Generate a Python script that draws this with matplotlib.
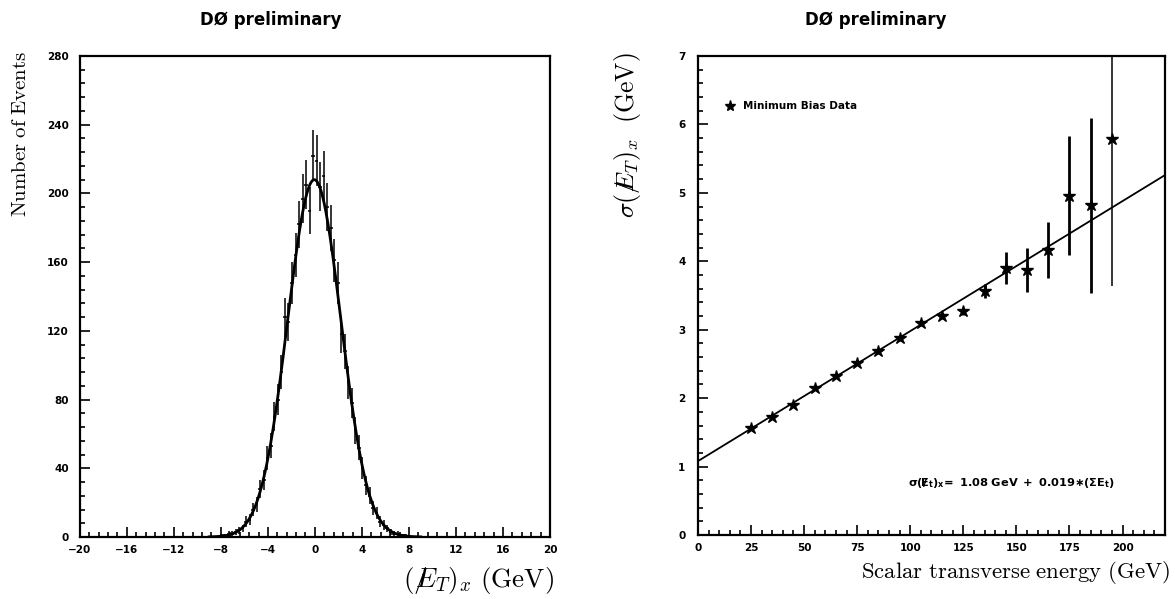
import numpy as np
import matplotlib
matplotlib.use("Agg")
import matplotlib.pyplot as plt
from matplotlib.ticker import MultipleLocator

plt.rcParams['mathtext.fontset'] = 'cm'
plt.rcParams['font.family'] = 'DejaVu Sans'

# ---- Left panel: x component of missing transverse energy ----
bin_width = 0.3
met_x_centers = np.arange(-7.95, 8.0, bin_width)
met_x_counts = [1, 1, 2, 2, 3, 4, 5, 9, 10, 16, 19, 28, 33, 46, 53, 70, 80, 96,
                128, 125, 148, 164, 182, 197, 205, 190, 222,
                219, 204, 210, 192, 180, 161, 148, 118, 108, 90, 78, 62, 52, 40,
                30, 24, 17, 14, 9, 7, 5, 3, 2, 2, 1, 1, 0]
# Gaussian fit parameters
gauss_amp, gauss_mean, gauss_sigma = 208.0, -0.05, 2.27

# ---- Right panel: resolution vs scalar transverse energy ----
sum_et = [25, 35, 45, 55, 65, 75, 85, 95, 105, 115, 125, 135, 145, 155, 165, 175, 185, 195]
sigma_met = [1.57, 1.72, 1.90, 2.15, 2.33, 2.51, 2.69, 2.88, 3.10, 3.20, 3.27, 3.57,
             3.90, 3.87, 4.16, 4.96, 4.82, 5.78]
sigma_err = [0.02, 0.02, 0.03, 0.03, 0.03, 0.03, 0.04, 0.04, 0.04, 0.05, 0.06, 0.10,
             0.23, 0.32, 0.41, 0.87, 1.28, 2.14]
fit_intercept, fit_slope = 1.08, 0.019

fig = plt.figure(figsize=(11.75, 5.99), dpi=100)
ax1 = fig.add_axes([0.068, 0.1035, 0.400, 0.803])
ax2 = fig.add_axes([0.594, 0.1068, 0.3975, 0.7997])


def style_axes(ax):
    for sp in ax.spines.values():
        sp.set_linewidth(1.6)
    ax.tick_params(which='both', direction='in', top=False, right=False, width=1.2)
    ax.tick_params(which='major', length=7)
    ax.tick_params(which='minor', length=3.5)
    for lab in ax.get_xticklabels() + ax.get_yticklabels():
        lab.set_fontsize(7.5)
        lab.set_fontweight('bold')


# Left panel
counts = np.asarray(met_x_counts, dtype=float)
ax1.errorbar(met_x_centers, counts, xerr=bin_width / 2, yerr=np.sqrt(counts),
             fmt='none', ecolor='black', elinewidth=1.1, capsize=0)
xs = np.linspace(-9, 9, 400)
ax1.plot(xs, gauss_amp * np.exp(-0.5 * ((xs - gauss_mean) / gauss_sigma) ** 2),
         color='black', lw=2.0)
ax1.set_xlim(-20, 20)
ax1.set_ylim(0, 280)
ax1.xaxis.set_major_locator(MultipleLocator(4))
ax1.xaxis.set_minor_locator(MultipleLocator(0.8))
ax1.yaxis.set_major_locator(MultipleLocator(40))
ax1.yaxis.set_minor_locator(MultipleLocator(8))
style_axes(ax1)
ax1.tick_params(axis='y', pad=8)
ax1.tick_params(axis='x', pad=6)
ax1.set_ylabel(r'$\mathrm{Number\ of\ Events}$', fontsize=15, loc='top')
ax1.yaxis.set_label_coords(-0.106, 1.01)
ax1.set_xlabel(r'$(/\!\!\!E_T)_x\ \mathrm{(GeV)}$', fontsize=19.5, loc='right')
ax1.xaxis.set_label_coords(1.01, -0.058)
ax1.text(0.406, 1.075, 'DØ preliminary', transform=ax1.transAxes,
         ha='center', va='center', fontsize=12, fontweight='bold')

# Right panel
ax2.errorbar(sum_et[:-1], sigma_met[:-1], yerr=sigma_err[:-1], fmt='*', color='black',
             ms=9, elinewidth=2.0, capsize=0)
ax2.errorbar(sum_et[-1:], sigma_met[-1:], yerr=sigma_err[-1:], fmt='*', color='black',
             ms=9, elinewidth=1.1, capsize=0)
xl = np.array([0.0, 220.0])
ax2.plot(xl, fit_intercept + fit_slope * xl, color='black', lw=1.3)
ax2.set_xlim(0, 220)
ax2.set_ylim(0, 7)
ax2.xaxis.set_major_locator(MultipleLocator(25))
ax2.xaxis.set_minor_locator(MultipleLocator(5))
ax2.yaxis.set_major_locator(MultipleLocator(1))
ax2.yaxis.set_minor_locator(MultipleLocator(0.2))
style_axes(ax2)
ax2.tick_params(axis='y', pad=9)
ax2.tick_params(axis='x', pad=6)
ax2.set_ylabel(r'$\sigma(/\!\!\!E_T)_x\ \ \mathrm{(GeV)}$', fontsize=18.5, loc='top')
ax2.yaxis.set_label_coords(-0.118, 1.008)
ax2.set_xlabel(r'$\mathrm{Scalar\ transverse\ energy\ (GeV)}$', fontsize=16.4, loc='right')
ax2.xaxis.set_label_coords(1.01, -0.05)
ax2.text(0.381, 1.075, 'DØ preliminary', transform=ax2.transAxes,
         ha='center', va='center', fontsize=12, fontweight='bold')

leg_handle = ax2.plot([], [], '*', color='black', ms=8, label='Minimum Bias Data')[0]
ax2.legend(handles=[leg_handle], loc='upper left', bbox_to_anchor=(0.036, 0.925),
           frameon=False, handletextpad=0.6, handlelength=1.2,
           prop=dict(size=7.5, weight='bold'))

ax2.text(0.672, 0.108,
         r'$\mathbf{\sigma(/\!\!\!E_t)_x\!=\ 1.08\ GeV\ +\ 0.019{\ast}(\Sigma E_t)}$',
         transform=ax2.transAxes, ha='center', va='center', fontsize=8.2,
         math_fontfamily='dejavusans')

fig.savefig('out.png', dpi=100)
